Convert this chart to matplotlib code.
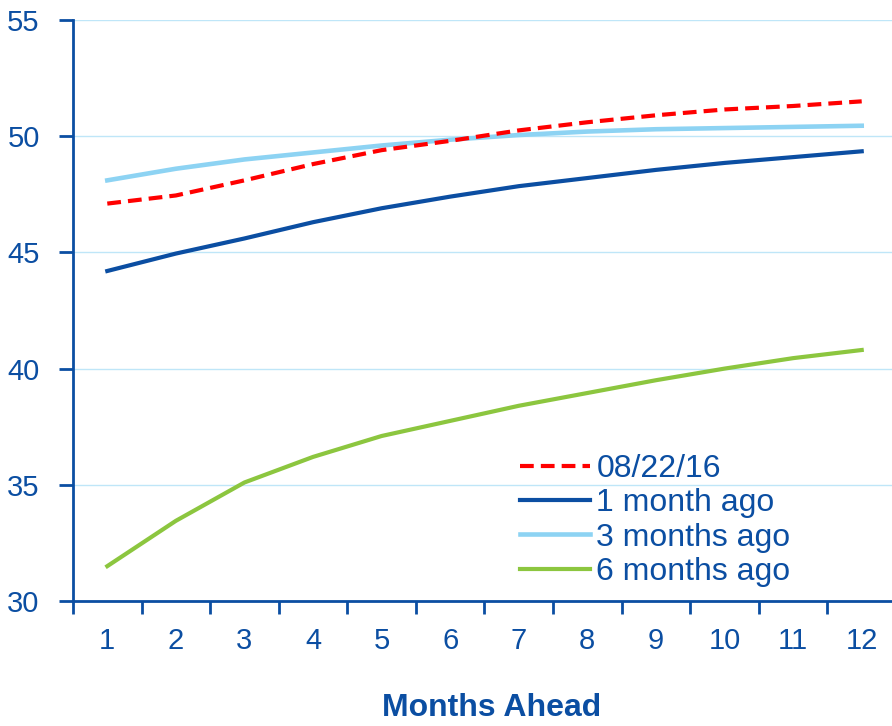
import matplotlib
matplotlib.use("Agg")
import matplotlib.pyplot as plt

# forecasts for each month ahead, by vintage
months = [1, 2, 3, 4, 5, 6, 7, 8, 9, 10, 11, 12]
latest = [47.1, 47.45, 48.1, 48.8, 49.4, 49.8, 50.25, 50.6, 50.9, 51.15, 51.3, 51.5]
one_month_ago = [44.2, 44.95, 45.6, 46.3, 46.9, 47.4, 47.85, 48.2, 48.55, 48.85, 49.1, 49.35]
three_months_ago = [48.1, 48.6, 49.0, 49.3, 49.6, 49.85, 50.05, 50.2, 50.3, 50.35, 50.4, 50.45]
six_months_ago = [31.5, 33.45, 35.1, 36.2, 37.1, 37.75, 38.4, 38.95, 39.5, 40.0, 40.45, 40.8]
yticks = [30, 35, 40, 45, 50, 55]

navy = "#0B4EA2"
plt.rcParams["font.family"] = ["Liberation Sans", "DejaVu Sans"]

fig = plt.figure(figsize=(8.92, 7.26), dpi=100)
ax = fig.add_axes([73 / 892, 1 - 601 / 726, 823 / 892, 581 / 726])

ax.plot(months, latest, color="#FF0000", lw=3, ls=(0, (3.3, 1.7)), label="08/22/16", zorder=5)
ax.plot(months, one_month_ago, color=navy, lw=3, label="1 month ago", zorder=4)
ax.plot(months, three_months_ago, color="#8DD3F3", lw=3.3, label="3 months ago", zorder=3)
ax.plot(months, six_months_ago, color="#8CC63F", lw=3, label="6 months ago", zorder=3)

ax.set_xlim(0.5, 12.5)
ax.set_ylim(30, 55)
ax.set_yticks(yticks)
ax.set_xticks(months)
ax.set_xticks([m + 0.5 for m in [0] + months], minor=True)
ax.tick_params(axis="x", which="major", length=0, pad=19, labelsize=21, labelcolor=navy)
ax.tick_params(axis="x", which="minor", length=9, width=2, color=navy, direction="out")
ax.tick_params(axis="y", length=10, width=2, color=navy, labelsize=21, labelcolor=navy, pad=14)

ax.grid(axis="y", color="#BFE6F8", lw=1)
ax.set_axisbelow(True)
for side in ("top", "right"):
    ax.spines[side].set_visible(False)
for side in ("left", "bottom"):
    ax.spines[side].set_color(navy)
    ax.spines[side].set_linewidth(2)

fig.text(492 / 892, 1 - 708 / 726, "Months Ahead", ha="center", va="center",
         fontsize=23, fontweight="bold", color=navy)

leg = ax.legend(loc="upper left", bbox_to_anchor=(520 / 892, 1 - 454 / 726),
                bbox_transform=fig.transFigure, frameon=False, fontsize=23,
                handlelength=2.2, handletextpad=0.19, labelspacing=0.135,
                borderpad=0, borderaxespad=0)
for t in leg.get_texts():
    t.set_color(navy)

fig.savefig("out.png", dpi=100)
